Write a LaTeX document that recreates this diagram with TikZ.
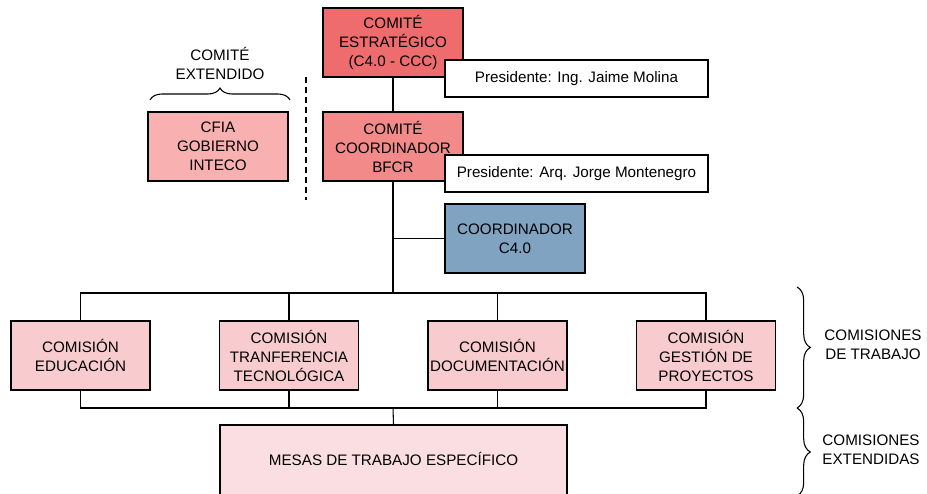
\documentclass[tikz,border=0pt]{standalone}
\usepackage{fontspec}
\setmainfont{Liberation Sans}
\usetikzlibrary{decorations.pathreplacing}
\definecolor{cEst}{RGB}{239,108,110}
\definecolor{cCoord}{RGB}{242,138,138}
\definecolor{cCfia}{RGB}{248,176,176}
\definecolor{cCom}{RGB}{248,204,206}
\definecolor{cMesa}{RGB}{250,222,225}
\definecolor{cBlue}{RGB}{127,163,192}
\tikzset{
  txt/.style={font=\fontsize{11.4}{14.25}\selectfont},
  box/.style={draw=black, line width=1pt, align=center, inner sep=0pt,
    minimum width=105pt, minimum height=51.75pt, txt},
  presbox/.style={draw=black, fill=white, line width=1pt, inner sep=0pt,
    minimum width=197.25pt, minimum height=27.75pt, txt},
  combox/.style={box, fill=cCom, minimum width=104.25pt},
  conn/.style={line width=0.8pt},
  lbl/.style={align=center, inner sep=0pt, txt},
  bracedec/.style={decorate, decoration={brace, amplitude=#1}, line width=0.8pt},
}
\begin{document}
\begin{tikzpicture}[x=0.75pt, y=-0.75pt]
\useasboundingbox (0,0) rectangle (927,493);
\clip (0,0) rectangle (927,493);
% top
\node[box, fill=cEst] (est) at (393,42.5) {COMITÉ\\ESTRATÉGICO\\(C4.0 - CCC)};
\node[box, fill=cCoord] (coord) at (393,146.5) {COMITÉ\\COORDINADOR\\BFCR};
\node[box, fill=cCfia] (cfia) at (218,146.5) {CFIA\\GOBIERNO\\INTECO};
\node[box, fill=cBlue] (c40) at (515,238.5) {COORDINADOR\\C4.0};
\node[presbox] (pres1) at (576.5,78.5) {Presidente: Ing. Jaime Molina};
\node[presbox] (pres2) at (576.5,173.5) {Presidente: Arq. Jorge Montenegro};
% comisiones
\node[combox] (edu) at (80.5,355.5) {COMISIÓN\\EDUCACIÓN};
\node[combox] (tra) at (289,355.5) {COMISIÓN\\TRANFERENCIA\\TECNOLÓGICA};
\node[combox] (doc) at (497.5,355.5) {COMISIÓN\\DOCUMENTACIÓN};
\node[combox] (ges) at (706,355.5) {COMISIÓN\\GESTIÓN DE\\PROYECTOS};
\node[box, fill=cMesa, minimum width=260.25pt, minimum height=54pt] (mesa) at (393.5,461) {};
\node[lbl] (mesatxt) at (393.5,459) {MESAS DE TRABAJO ESPECÍFICO};
% junction coordinates
\coordinate (jtop) at (393,293);
\coordinate (jbot) at (393,408);
% connectors
\draw[conn] (est.south) -- (coord.north);
\draw[conn] (coord.south) -- (jtop);
\draw[conn] (c40.west) -- (c40.west -| coord.south);
\draw[conn] (edu.north) |- (jtop) -| (ges.north);
\draw[conn] (tra.north) -- (tra.north |- jtop);
\draw[conn] (doc.north) -- (doc.north |- jtop);
\draw[conn] (edu.south) |- (jbot) -| (ges.south);
\draw[conn] (tra.south) -- (tra.south |- jbot);
\draw[conn] (doc.south) -- (doc.south |- jbot);
\draw[conn] (jbot) -- (mesa.north);
% dashed separator
\coordinate (dsA) at (306,77);
\coordinate (dsB) at (306,200);
\draw[conn, dash pattern=on 4.5pt off 3pt] (dsA) -- (dsB);
% brace comité extendido
\coordinate (brA) at (150,100);
\coordinate (brB) at (290,100);
\draw[bracedec=9pt] (brA) -- (brB);
\node[lbl] (ext) at (220,63.5) {COMITÉ\\EXTENDIDO};
% right braces
\coordinate (rb1) at (797,287);
\coordinate (rb2) at (797,408);
\coordinate (rb3) at (797,496);
\draw[bracedec=10pt] (rb1) -- (rb2);
\draw[bracedec=10pt] (rb2) -- (rb3);
\node[lbl] (ctrab) at (873,344.5) {COMISIONES\\DE TRABAJO};
\node[lbl] (cext) at (871,450) {COMISIONES\\EXTENDIDAS};
\end{tikzpicture}
\end{document}
